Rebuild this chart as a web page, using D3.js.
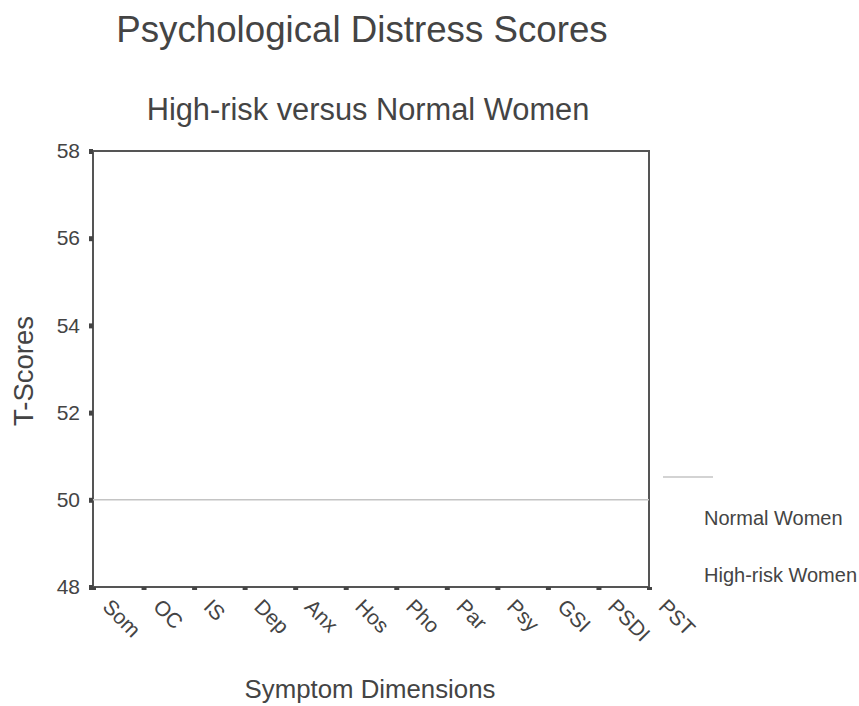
<!DOCTYPE html>
<html><head><meta charset="utf-8">
<script src="https://cdn.jsdelivr.net/npm/d3@7"></script>
<style>body{margin:0;background:#fff;} text{font-family:"Liberation Sans",Arial,sans-serif;fill:#444;}</style>
</head><body>
<script>
const categories = ["Som","OC","IS","Dep","Anx","Hos","Pho","Par","Psy","GSI","PSDI","PST"];
const normalWomen = [50,50,50,50,50,50,50,50,50,50,50,50];
const yTicks = [48,50,52,54,56,58];
const seriesNames = ["Normal Women","High-risk Women"];

const W = 859, H = 706;
const svg = d3.select("body").append("svg").attr("width", W).attr("height", H);
const mL = 93, mR = 649, mT = 151, mB = 587;

const x = d3.scalePoint().domain(categories).range([mL, mR]);
const y = d3.scaleLinear().domain([48, 58]).range([mB, mT]);

// titles
svg.append("text").attr("x", 362).attr("y", 42).attr("text-anchor","middle")
  .style("font-size","36.7px").text("Psychological Distress Scores");
svg.append("text").attr("x", 368).attr("y", 120).attr("text-anchor","middle")
  .style("font-size","30.8px").text("High-risk versus Normal Women");

// frame
svg.append("rect").attr("x", mL).attr("y", mT).attr("width", mR-mL).attr("height", mB-mT)
  .attr("fill","none").attr("stroke","#555").attr("stroke-width",2);

// y axis
const ya = svg.append("g").attr("transform",`translate(${mL},0)`)
  .call(d3.axisLeft(y).tickValues(yTicks).tickSize(4).tickPadding(9).tickFormat(d3.format("d")));
ya.select(".domain").remove();
ya.selectAll(".tick line").attr("stroke","#444").attr("stroke-width",5);
ya.selectAll(".tick text").style("font-size","21px").style("fill","#444");

// x axis
const xa = svg.append("g").attr("transform",`translate(0,${mB})`)
  .call(d3.axisBottom(x).tickSize(3).tickPadding(0));
xa.select(".domain").remove();
xa.selectAll(".tick line").attr("stroke","#444").attr("stroke-width",5);
xa.selectAll(".tick text").style("font-size","21px").style("fill","#444")
  .attr("text-anchor","start").attr("dy",null)
  .attr("transform","translate(10,19) rotate(45)");

// series line
const line = d3.line().x((d,i)=>x(categories[i])).y(d=>y(d));
svg.append("path").datum(normalWomen).attr("d", line)
  .attr("fill","none").attr("stroke","#c4c4c4").attr("stroke-width",1.5);

// axis labels
svg.append("text").attr("transform","translate(33,371) rotate(-90)").attr("text-anchor","middle")
  .style("font-size","27.5px").text("T-Scores");
svg.append("text").attr("x", 370).attr("y", 698).attr("text-anchor","middle")
  .style("font-size","25.8px").text("Symptom Dimensions");

// legend
svg.append("line").attr("x1",663).attr("x2",713).attr("y1",477).attr("y2",477)
  .attr("stroke","#c4c4c4").attr("stroke-width",1.5);
svg.selectAll(".leg").data(seriesNames).join("text").attr("class","leg")
  .attr("x",704).attr("y",(d,i)=>525+i*57).style("font-size","20px").text(d=>d);
</script>
</body></html>
